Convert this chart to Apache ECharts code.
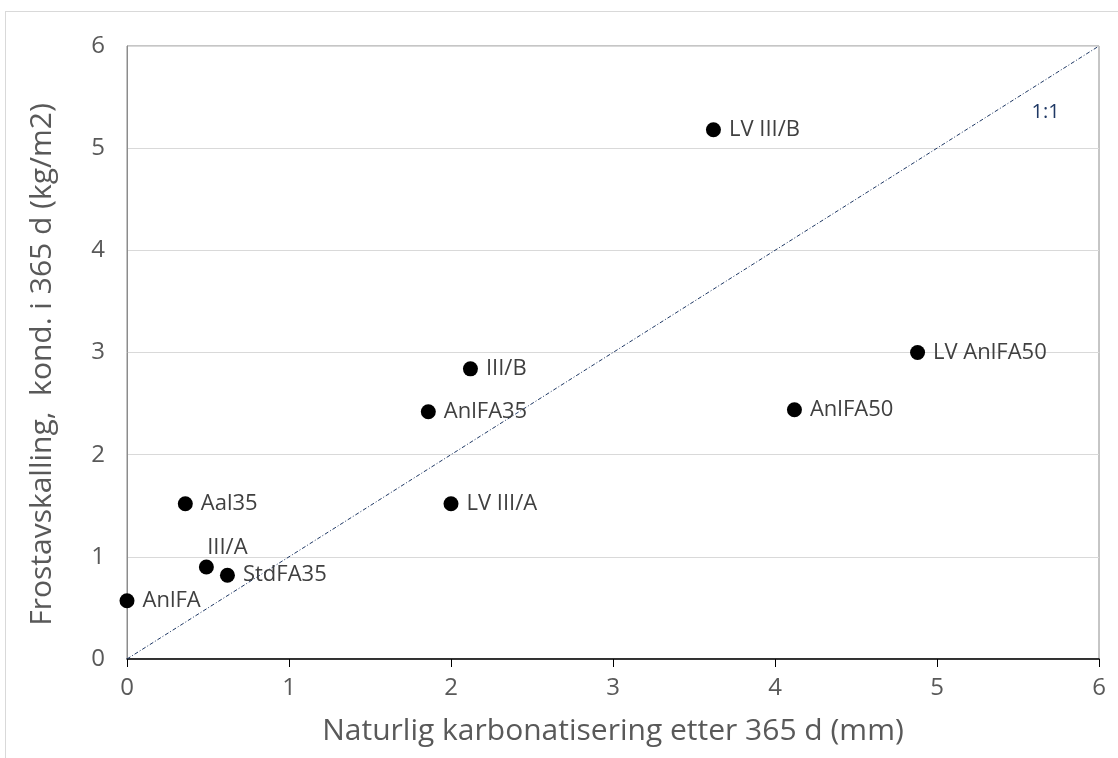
<!DOCTYPE html>
<html>
<head>
<meta charset="utf-8">
<script src="https://cdn.jsdelivr.net/npm/echarts@6/dist/echarts.min.js"></script>
<style>
  html, body { margin: 0; padding: 0; background: #ffffff; }
  #frame { position: absolute; left: 5px; top: 11px; width: 1130px; height: 770px;
           border-left: 1px solid #d9d9d9; border-top: 1px solid #d9d9d9; }
  #chart { position: absolute; left: 0; top: 0; width: 1118px; height: 758px; }
</style>
</head>
<body>
<div id="frame"></div>
<div id="chart"></div>
<script>
// Mixes: natural carbonation depth after 365 d (mm) vs. frost scaling (kg/m2)
const names = ['AnlFA', 'III/A', 'StdFA35', 'Aal35', 'AnlFA35', 'III/B', 'LV III/A', 'LV III/B', 'AnlFA50', 'LV AnlFA50'];
const carbonation = [0.00, 0.49, 0.62, 0.36, 1.86, 2.12, 2.00, 3.62, 4.12, 4.88];
const scaling     = [0.57, 0.90, 0.82, 1.52, 2.42, 2.84, 1.52, 5.18, 2.44, 3.00];
const axisTicks = [0, 1, 2, 3, 4, 5, 6];
const refLine = [[0, 0], [6, 6]];

const FONT = '"Open Sans", "Noto Sans", sans-serif';

const points = names.map((n, i) => {
  const p = { value: [carbonation[i], scaling[i]], name: n };
  if (n === 'III/A') {
    p.label = { position: 'top', offset: [21, 7] };
  }
  return p;
});

const tickLabel = { fontFamily: FONT, fontSize: 24, color: '#595959' };

const chart = echarts.init(document.getElementById('chart'), null, { renderer: 'canvas' });
chart.setOption({
  animation: false,
  backgroundColor: 'transparent',
  grid: { left: 127, top: 46, width: 972, height: 613, show: true, borderColor: '#8c8c8c', borderWidth: 1 },
  xAxis: {
    type: 'value', min: axisTicks[0], max: axisTicks[axisTicks.length - 1], interval: 1,
    name: 'Naturlig karbonatisering etter 365 d (mm)',
    nameLocation: 'middle', nameGap: 57,
    nameTextStyle: { fontFamily: FONT, fontSize: 30, color: '#595959', verticalAlign: 'top' },
    axisLine: { show: true, lineStyle: { color: '#000000', width: 1.5 } },
    axisTick: { show: true, length: 8, lineStyle: { color: '#000000' } },
    axisLabel: Object.assign({ margin: 17 }, tickLabel),
    splitLine: { show: false }
  },
  yAxis: {
    type: 'value', min: axisTicks[0], max: axisTicks[axisTicks.length - 1], interval: 1,
    name: 'Frostavskalling,  kond. i 365 d (kg/m2)',
    nameLocation: 'middle', nameGap: 70,
    nameTextStyle: { fontFamily: FONT, fontSize: 30, color: '#595959', verticalAlign: 'bottom', padding: [0, 24, 0, 0] },
    axisLine: { show: true, lineStyle: { color: '#8c8c8c', width: 1 } },
    axisTick: { show: false },
    axisLabel: Object.assign({ margin: 22 }, tickLabel),
    splitLine: { show: true, lineStyle: { color: '#d9d9d9', width: 1 } }
  },
  series: [
    {
      type: 'line',
      data: refLine,
      symbol: 'none',
      silent: true,
      lineStyle: { color: '#1f3864', width: 1, type: [4, 2, 1, 2] },
      markPoint: {
        symbol: 'circle', symbolSize: 0,
        data: [{ coord: [5.67, 5.35], value: '1:1' }],
        label: { show: true, formatter: '1:1', fontFamily: FONT, fontSize: 20, color: '#1f3864', position: 'inside' }
      },
      z: 1
    },
    {
      type: 'scatter',
      data: points,
      symbol: 'circle',
      symbolSize: 15,
      itemStyle: { color: '#000000', opacity: 1 },
      label: {
        show: true, position: 'right', distance: 8,
        formatter: p => p.name,
        fontFamily: FONT, fontSize: 22, color: '#404040'
      },
      z: 3
    }
  ]
});
</script>
</body>
</html>
